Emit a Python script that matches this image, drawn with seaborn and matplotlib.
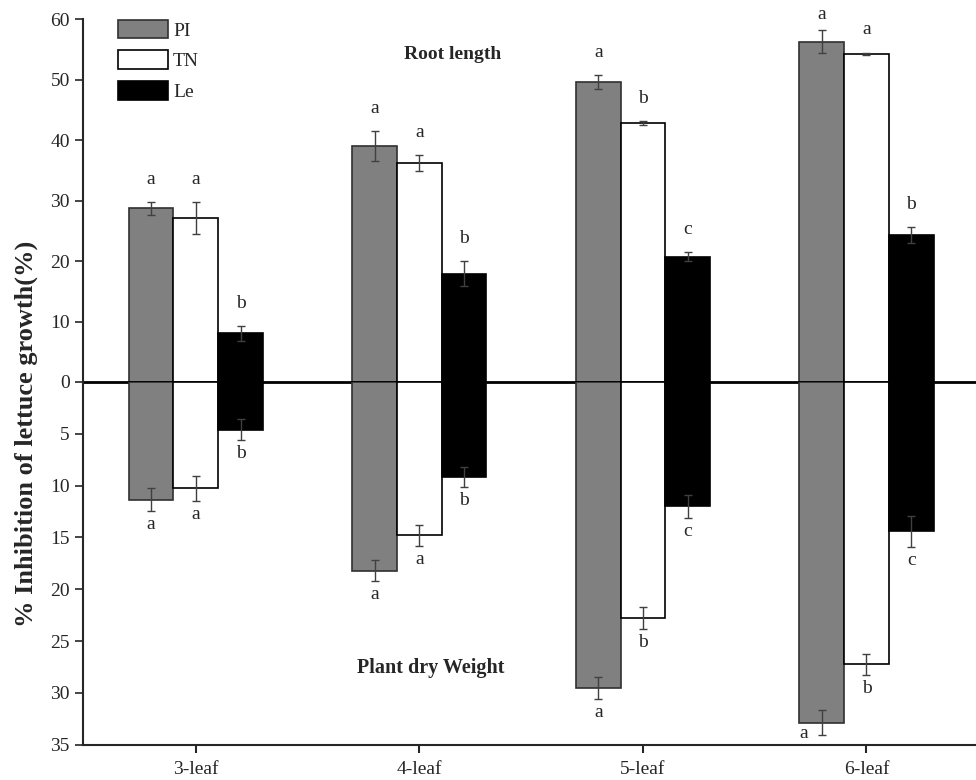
import numpy as np
import pandas as pd
import matplotlib
matplotlib.use("Agg")
import matplotlib.pyplot as plt
import seaborn as sns
from matplotlib.patches import Patch

# --- DATA ---
stages = ["3-leaf", "4-leaf", "5-leaf", "6-leaf"]
treatments = ["PI", "TN", "Le"]

# Root length inhibition (%), upper half
root_pi = [28.7, 39.0, 49.6, 56.3]
root_tn = [27.1, 36.2, 42.85, 54.3]
root_le = [8.05, 17.9, 20.7, 24.3]
root_pi_err = [1.1, 2.5, 1.1, 1.9]
root_tn_err = [2.6, 1.27, 0.3, 0.2]
root_le_err = [1.25, 2.1, 0.75, 1.3]
root_pi_let = ["a", "a", "a", "a"]
root_tn_let = ["a", "a", "b", "a"]
root_le_let = ["b", "b", "c", "b"]

# Plant dry weight inhibition (%), lower half
dw_pi = [11.35, 18.2, 29.5, 32.9]
dw_tn = [10.28, 14.8, 22.75, 27.25]
dw_le = [4.6, 9.16, 12.0, 14.4]
dw_pi_err = [1.07, 1.0, 1.05, 1.2]
dw_tn_err = [1.22, 1.0, 1.05, 1.0]
dw_le_err = [1.0, 1.0, 1.1, 1.5]
dw_pi_let = ["a", "a", "a", "a"]
dw_tn_let = ["a", "a", "b", "b"]
dw_le_let = ["b", "b", "c", "c"]

colors = {"PI": "#808080", "TN": "#ffffff", "Le": "#000000"}
edges = {"PI": "#303030", "TN": "#000000", "Le": "#000000"}


def long_table(pi, tn, le, pe, te, le_e, pl, tl, ll):
    rows = []
    for t, vals, errs, lets in [("PI", pi, pe, pl), ("TN", tn, te, tl), ("Le", le, le_e, ll)]:
        for s, v, e, l in zip(stages, vals, errs, lets):
            rows.append({"stage": s, "treatment": t, "value": v, "err": e, "letter": l})
    return pd.DataFrame(rows)


df_root = long_table(root_pi, root_tn, root_le, root_pi_err, root_tn_err, root_le_err,
                     root_pi_let, root_tn_let, root_le_let)
df_dw = long_table(dw_pi, dw_tn, dw_le, dw_pi_err, dw_tn_err, dw_le_err,
                   dw_pi_let, dw_tn_let, dw_le_let)

sns.set_style("ticks")
plt.rcParams["font.family"] = ["Liberation Serif", "DejaVu Serif"]

fig = plt.figure(figsize=(9.76, 7.8), dpi=100)
ax_top = fig.add_axes([0.085, 0.5103, 0.915, 0.4650])
ax_bot = fig.add_axes([0.085, 0.0453, 0.915, 0.4650], sharex=ax_top)


def draw_half(ax, df, upper):
    sns.barplot(data=df, x="stage", y="value", hue="treatment", order=stages,
                hue_order=treatments, palette=colors, width=0.6, errorbar=None,
                saturation=1, legend=False, ax=ax, zorder=2)
    for cont, t in zip(ax.containers, treatments):
        sub = df[df["treatment"] == t].set_index("stage").loc[stages]
        for bar, (stage, row) in zip(cont, sub.iterrows()):
            bar.set_edgecolor(edges[t])
            bar.set_linewidth(1.2)
            xc = bar.get_x() + bar.get_width() / 2
            ax.errorbar(xc, row["value"], yerr=row["err"], fmt="none",
                        ecolor="#404040", elinewidth=1, capsize=3.2, capthick=1, zorder=3)
            if upper:
                off = (0, 13)
                if stage == "6-leaf" and t == "PI":
                    off = (0, 8)
            else:
                off = (0, -13)
                if stage == "6-leaf" and t == "PI":
                    off = (-13, -2)
            ax.annotate(row["letter"], (xc, row["value"] + row["err"]),
                        xytext=off, textcoords="offset points",
                        ha="center", va="baseline", fontsize=14, annotation_clip=False)


draw_half(ax_top, df_root, True)
draw_half(ax_bot, df_dw, False)

ax_top.set_ylim(0, 60)
ax_top.set_yticks(np.arange(0, 61, 10))
ax_bot.set_ylim(35, 0)
ax_top.set_xlim(-0.505, 3.49)

for ax in (ax_top, ax_bot):
    ax.set_xlabel("")
    ax.set_ylabel("")
    for side in ("top", "right"):
        ax.spines[side].set_visible(False)
    ax.spines["left"].set_linewidth(1.5)
    ax.tick_params(axis="y", labelsize=14, width=1.2, length=6, direction="out")
    ax.set_facecolor("none")

ax_top.spines["bottom"].set_visible(False)
ax_top.tick_params(axis="x", bottom=False, labelbottom=False)
ax_top.axhline(0, color="black", lw=2, zorder=4, clip_on=False)
ax_bot.spines["bottom"].set_linewidth(1.5)
ax_bot.tick_params(axis="x", labelsize=14, width=1.5, length=6, direction="out", pad=6)
ax_bot.set_yticks([5, 10, 15, 20, 25, 30, 35])

handles = [Patch(facecolor=colors[t], edgecolor=edges[t], linewidth=1.2, label=t) for t in treatments]
ax_top.legend(handles=handles, loc="upper left", bbox_to_anchor=(0.03, 1.02), frameon=False,
              fontsize=14, handlelength=2.6, handleheight=1.1, labelspacing=0.55,
              handletextpad=0.25, borderaxespad=0)

fig.text(0.464, 0.9295, "Root length", ha="center", va="center", fontsize=14, fontweight="bold")
fig.text(0.441, 0.1436, "Plant dry Weight", ha="center", va="center", fontsize=14.5, fontweight="bold")
fig.text(0.027, 0.444, "% Inhibition of lettuce growth(%)", rotation=90, ha="center", va="center",
         fontsize=19, fontweight="bold")

fig.savefig("out.png", dpi=100)
